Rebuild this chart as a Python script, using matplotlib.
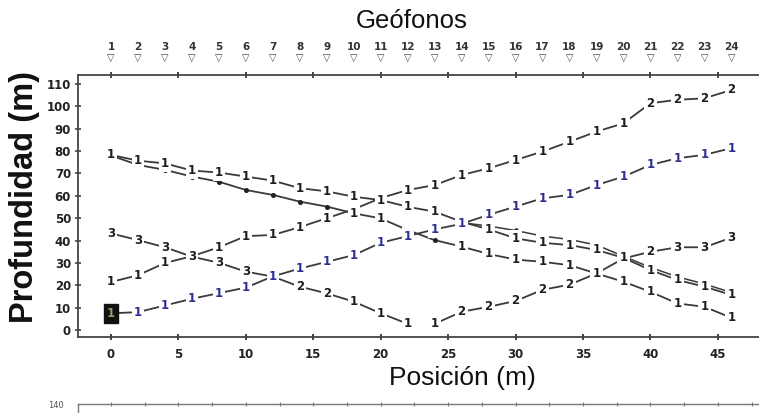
import matplotlib
matplotlib.use('Agg')
import matplotlib.pyplot as plt
import numpy as np

plt.rcParams['font.family'] = ['DejaVu Sans']

# ---------------- data ----------------
geophone_pos = list(range(0, 47, 2))
geophone_labels = [str(i) for i in range(1, 25)]

pos_full = list(range(0, 47, 2))

P_depth = [7.5, 8, 11, 14, 16.5, 19, 24, 27.5, 30.5, 33.5, 39, 42, 45, 47.5,
           51.5, 55.2, 58.9, 60.4, 64.8, 68.6, 73.8, 76.8, 78.3, 81.3]
P_labels = ["1"] * 24

Q_depth = [21.5, 24.5, 30, 33, 37, 42, 42.5, 46, 50, 54, 59, 62.6, 64.8, 69.3,
           72.3, 76, 79.8, 84.2, 88.7, 92.4, 101.4, 102.9, 103.6, 107.3]
Q_labels = ["1", "1", "1", "", "1", "1", "1", "1", "1", "", "", "1", "1", "1",
            "1", "1", "1", "1", "1", "1", "2", "2", "2", "2"]

Da_depth = [78.3, 75.7, 74.5, 71.3, 70.4, 68.6, 66.8, 63.4, 62, 59.6, 58.1, 55.1,
            52.9, 48.4, 45, 41, 39, 38, 35.8, 32.3, 26.8, 22.4, 19.4, 15.7]
Da_labels = ["1", "1", "1", "1", "1", "1", "1", "1", "1", "1", "1", "1",
             "1", "", "1", "1", "1", "1", "1", "1", "1", "1", "1", "1"]

Db_depth = [78, 73.8, 71.6, 68.6, 66.3, 62.6, 60.4, 57.4, 55.2, 52.2, 49.9, 44.7,
            40.2, 37.3, 34, 31.5, 30.5, 29, 25.3, 21.6, 17.1, 11.9, 10.4, 5.5]
Db_labels = ["", "", "", "", "", "", "", "", "", "1", "1", "",
             "", "1", "1", "1", "1", "1", "1", "1", "1", "1", "1", "1"]

Dc_pos = [26, 28, 30, 32, 34, 36, 38, 40, 42, 44, 46]
Dc_depth = [48, 46.5, 44.5, 42, 40.5, 38, 33, 28, 23.8, 20.6, 16.8]

R_pos = [0, 2, 4, 6, 8, 10, 12, 14, 16, 18, 20, 22]
R_depth = [43.2, 40.2, 37, 32.8, 30.1, 26.1, 23.9, 19.4, 16.4, 12.7, 7.5, 2.8]
R_labels = ["3", "3", "3", "3", "3", "3", "", "2", "2", "1", "1", "1"]

S_pos = [24, 26, 28, 30, 32, 34, 36, 38, 40, 42, 44, 46]
S_depth = [2.8, 8.2, 10.4, 13, 18, 20.3, 25.3, 32, 35, 37, 37, 41.3]
S_labels = ["1", "2", "2", "2", "2", "2", "", "", "2", "3", "3", "3"]

x_ticks = [0, 5, 10, 15, 20, 25, 30, 35, 40, 45]
y_ticks = [0, 10, 20, 30, 40, 50, 60, 70, 80, 90, 100, 110]

# ---------------- figure ----------------
W, H = 759, 413
fig = plt.figure(figsize=(W / 100, H / 100), dpi=100)
ax = fig.add_axes([78 / W, 1 - 337 / H, 1 - 78 / W, (337 - 75) / H])
ax.set_xlim(-2.45, 48.05)
ax.set_ylim(-3.1, 114)

line_c = '#3a3a3a'
lab_kw = dict(ha='center', va='center', fontsize=8.5, fontweight='bold',
              bbox=dict(boxstyle='square,pad=0.18', fc='white', ec='none'), zorder=4)


def draw_series(xs, ys, labels, color='#1e1e1e'):
    ax.plot(xs, ys, color=line_c, lw=1.3, zorder=2, solid_capstyle='butt')
    for x, y, l in zip(xs, ys, labels):
        if l:
            ax.text(x, y, l, color=color, **lab_kw)
        else:
            ax.plot([x], [y], 'o', ms=2.6, color='#222222', zorder=3)


draw_series(pos_full, Da_depth, Da_labels)
draw_series(pos_full, Db_depth, Db_labels)
ax.plot(Dc_pos, Dc_depth, color=line_c, lw=1.1, zorder=2)
ax.plot(Dc_pos, Dc_depth, 'o', ms=2.2, color='#222222', zorder=3)
draw_series(pos_full, Q_depth, Q_labels)
draw_series(R_pos, R_depth, R_labels)
draw_series(S_pos, S_depth, S_labels)
draw_series(pos_full[1:], P_depth[1:], P_labels[1:], color='#2e2e8e')
ax.plot(pos_full[:2], P_depth[:2], color=line_c, lw=1.3, zorder=2)
ax.text(pos_full[0], P_depth[0], P_labels[0], ha='center', va='center',
        fontsize=8.5, fontweight='bold', color='#9a9a70', zorder=5,
        bbox=dict(boxstyle='square,pad=0.25', fc='#111111', ec='#111111'))

# spines & ticks
for s in ['top', 'left', 'bottom']:
    ax.spines[s].set_color('#444444')
    ax.spines[s].set_linewidth(1.3)
ax.spines['right'].set_visible(False)
ax.set_xticks(x_ticks)
ax.set_yticks(y_ticks)
ax.tick_params(axis='x', which='both', top=True, labeltop=False, direction='inout',
               length=4, width=1.4, colors='#444444', pad=6)
ax.tick_params(axis='y', direction='inout', length=4, width=1.2, colors='#444444', pad=3)
for lab in ax.get_xticklabels() + ax.get_yticklabels():
    lab.set_fontsize(8.5)
    lab.set_fontweight('bold')
    lab.set_color('#222222')

# geophones on top
for g, gl in zip(geophone_pos, geophone_labels):
    ax.annotate(gl, xy=(g, 1), xycoords=('data', 'axes fraction'), xytext=(0, 20.5),
                textcoords='offset points', ha='center', va='center', fontsize=7.5,
                fontweight='bold', color='#333333', annotation_clip=False)
    ax.annotate('▽', xy=(g, 1), xycoords=('data', 'axes fraction'), xytext=(0, 12.5),
                textcoords='offset points', ha='center', va='center', fontsize=7,
                color='#444444', annotation_clip=False)

fig.text(412 / W, 1 - 21 / H, 'Geófonos', fontsize=18.5, family='Liberation Sans',
         ha='center', va='center', color='#111111')
fig.text(462 / W, 1 - 378 / H, 'Posición (m)', fontsize=19, family='Liberation Sans',
         ha='center', va='center', color='#111111')
fig.text(25 / W, 1 - 197 / H, 'Profundidad (m)', fontsize=23.5, fontweight='bold',
         family='Liberation Sans', rotation=90, ha='center', va='center', color='#111111')

# partial lower panel (cut off)
ax2 = fig.add_axes([78 / W, -0.3, 1 - 78 / W, 0.3 + (H - 404) / H])
ax2.set_xlim(-2.45, 48.05)
ax2.set_ylim(0, 140)
ax2.patch.set_alpha(0)
for s in ['right', 'bottom']:
    ax2.spines[s].set_visible(False)
for s in ['top', 'left']:
    ax2.spines[s].set_color('#777777')
    ax2.spines[s].set_linewidth(1.0)
ax2.set_xticks(np.arange(0, 48, 2.5))
ax2.tick_params(axis='x', bottom=False, labelbottom=False, top=True, direction='inout',
                length=2.5, width=0.8, colors='#777777')
ax2.set_yticks([140])
ax2.set_yticklabels(['140'])
ax2.tick_params(axis='y', length=0, pad=10, labelsize=6, labelcolor='#555555')

fig.savefig('out.png', dpi=100)
